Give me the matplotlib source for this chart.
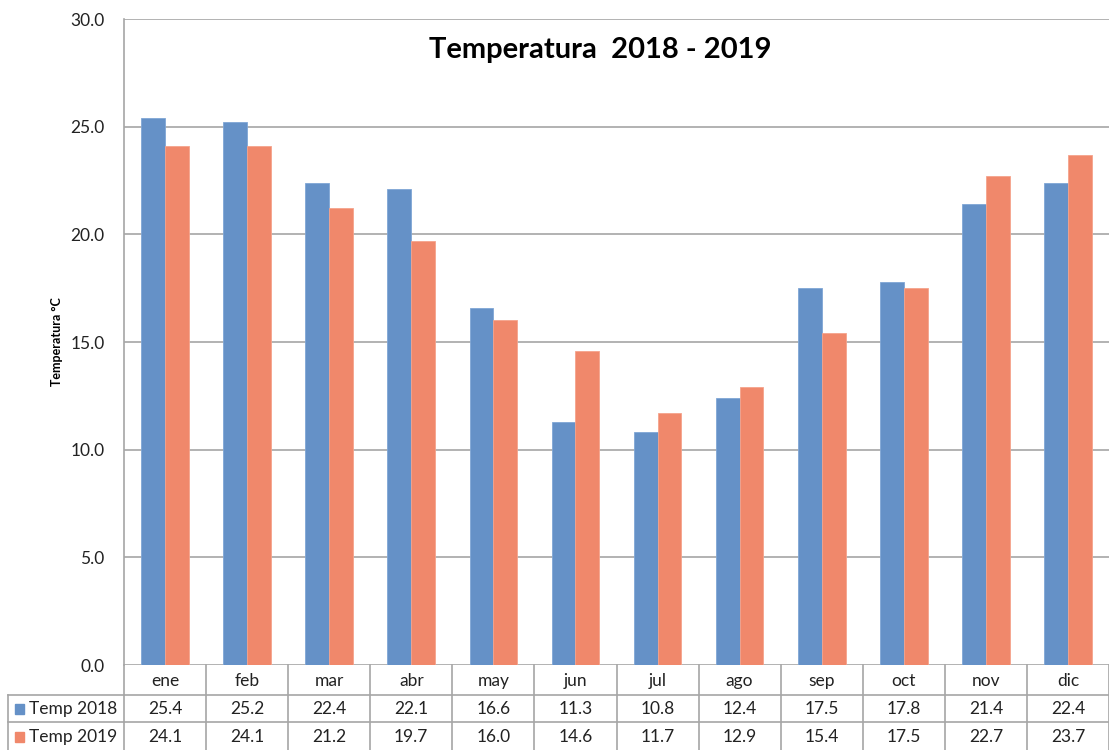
import numpy as np
import matplotlib.pyplot as plt
from matplotlib.transforms import blended_transform_factory

months = ['ene', 'feb', 'mar', 'abr', 'may', 'jun', 'jul', 'ago', 'sep', 'oct', 'nov', 'dic']
temp_2018 = [25.4, 25.2, 22.4, 22.1, 16.6, 11.3, 10.8, 12.4, 17.5, 17.8, 21.4, 22.4]
temp_2019 = [24.1, 24.1, 21.2, 19.7, 16.0, 14.6, 11.7, 12.9, 15.4, 17.5, 22.7, 23.7]
series_names = ['Temp 2018', 'Temp 2019']
yticks = [0, 5, 10, 15, 20, 25, 30]

BLUE = '#6591C7'
ORANGE = '#F0886B'
GRID = '#A6A6A6'
W, H = 1109, 750

plt.rcParams['font.family'] = ['Lato', 'DejaVu Sans']

fig = plt.figure(figsize=(W / 100, H / 100), dpi=100)
ax = fig.add_axes([124 / W, (H - 665) / H, (W - 124) / W, (665 - 19) / H])

x = np.arange(len(months))
bw = 0.29
ax.bar(x - bw / 2, temp_2018, bw, color=BLUE, edgecolor='#7FA6D6', lw=0.6, zorder=3)
ax.bar(x + bw / 2, temp_2019, bw, color=ORANGE, edgecolor='#F5A38C', lw=0.6, zorder=3)

ax.set_xlim(-0.5, len(months) - 0.5)
ax.set_ylim(0, 30)
ax.set_yticks(yticks)
ax.set_yticklabels([f'{v:.1f}' for v in yticks], fontsize=12.5, color='#222222')
ax.tick_params(axis='y', length=0, pad=14)
ax.set_xticks([])
ax.grid(axis='y', color=GRID, lw=1.2, zorder=0)
for s in ['top', 'right', 'bottom']:
    ax.spines[s].set_visible(False)
ax.spines['left'].set_color(GRID)
ax.spines['left'].set_linewidth(1.2)
fig.text(57 / W, 1 - 342 / H, 'Temperatura °C', rotation=90, ha='center', va='center',
         fontsize=9, fontweight='bold')

fig.text(600 / W, 1 - 50 / H, 'Temperatura  2018 - 2019', ha='center', va='center',
         fontsize=21, fontweight='bold')

# data table below the axes
tr = blended_transform_factory(ax.transData, fig.transFigure)
def fy(py):
    return 1 - py / H

lc = dict(color=GRID, lw=1.2, clip_on=False)
xl = -0.5
xr = len(months) - 0.5
# horizontal lines
ax.plot([xl, xr], [fy(695)] * 2, transform=tr, **lc)
ax.plot([xl, xr], [fy(722)] * 2, transform=tr, **lc)
fig.add_artist(plt.Line2D([8 / W, 124 / W], [fy(695)] * 2, color=GRID, lw=1.2))
fig.add_artist(plt.Line2D([8 / W, 124 / W], [fy(722)] * 2, color=GRID, lw=1.2))
fig.add_artist(plt.Line2D([8 / W, 8 / W], [fy(695), 0], color=GRID, lw=1.2))
fig.add_artist(plt.Line2D([124 / W, 124 / W], [fy(665), 0], color=GRID, lw=1.2))
# vertical lines
for i in range(1, len(months)):
    ax.plot([i - 0.5] * 2, [fy(665), 0], transform=tr, **lc)
ax.plot([xr] * 2, [fy(665), 0], transform=tr, **lc)

for i, m in enumerate(months):
    ax.text(i, fy(681), m, transform=tr, ha='center', va='center', fontsize=12.5, color='#222222')
    ax.text(i, fy(709), f'{temp_2018[i]:.1f}', transform=tr, ha='center', va='center',
            fontsize=12.5, color='#222222')
    ax.text(i, fy(737), f'{temp_2019[i]:.1f}', transform=tr, ha='center', va='center',
            fontsize=12.5, color='#222222')

for name, col, py in zip(series_names, [BLUE, ORANGE], [709, 737]):
    fig.add_artist(plt.Rectangle((15 / W, fy(py + 5)), 9 / W, 10 / H, color=col))
    fig.text(29 / W, fy(py), name, ha='left', va='center', fontsize=12.5, color='#222222')

fig.savefig('out.png', dpi=100)
